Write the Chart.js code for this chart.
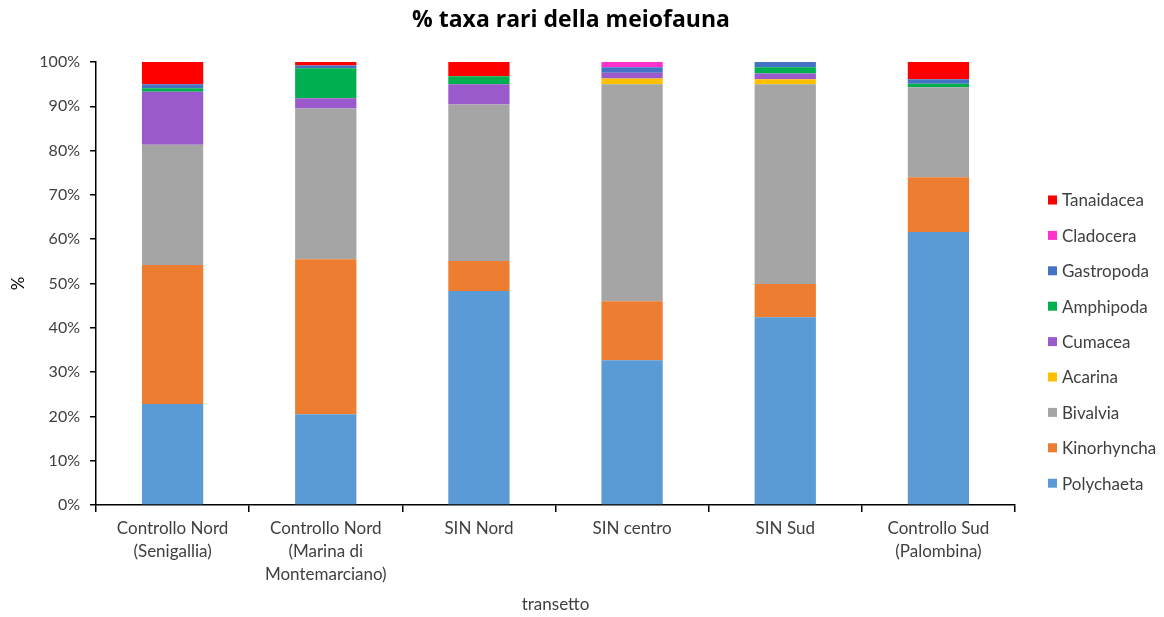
<!DOCTYPE html>
<html>
<head>
<meta charset="utf-8">
<script src="https://cdn.jsdelivr.net/npm/chart.js@4"></script>
<style>
  html, body { margin: 0; padding: 0; background: #fff; }
  #wrap { width: 1164px; height: 617px; }
</style>
</head>
<body>
<div id="wrap"><canvas id="chart" width="1164" height="617"></canvas></div>
<script>
const transetti = [
  ["Controllo Nord", "(Senigallia)"],
  ["Controllo Nord", "(Marina di", "Montemarciano)"],
  "SIN Nord",
  "SIN centro",
  "SIN Sud",
  ["Controllo Sud", "(Palombina)"],
];

const polychaeta = [22.8, 20.5, 48.3, 32.7, 42.4, 61.6];
const kinorhyncha = [31.4, 35.0, 6.8, 13.3, 7.5, 12.4];
const bivalvia = [27.1, 34.0, 35.3, 49.0, 45.1, 20.3];
const acarina = [0, 0, 0, 1.3, 1.1, 0];
const cumacea = [12.0, 2.3, 4.6, 1.3, 1.3, 0];
const amphipoda = [0.75, 6.8, 1.8, 0, 1.4, 0.8];
const gastropoda = [0.95, 0.6, 0, 1.2, 1.2, 1.0];
const cladocera = [0, 0, 0, 1.2, 0, 0];
const tanaidacea = [5.0, 0.8, 3.2, 0, 0, 3.9];

const yTicks = [0, 10, 20, 30, 40, 50, 60, 70, 80, 90, 100];

const font = "Lato, 'Liberation Sans', sans-serif";
const textColor = "#404040";

const series = [
  { label: "Polychaeta", data: polychaeta, color: "#5B9BD5" },
  { label: "Kinorhyncha", data: kinorhyncha, color: "#ED7D31" },
  { label: "Bivalvia", data: bivalvia, color: "#A5A5A5" },
  { label: "Acarina", data: acarina, color: "#FFC000" },
  { label: "Cumacea", data: cumacea, color: "#9B5ACB" },
  { label: "Amphipoda", data: amphipoda, color: "#00B050" },
  { label: "Gastropoda", data: gastropoda, color: "#4472C4" },
  { label: "Cladocera", data: cladocera, color: "#FF33CC" },
  { label: "Tanaidacea", data: tanaidacea, color: "#FF0000" },
];

// title + legend drawn by hand so they sit where Excel put them
const extras = {
  id: "extras",
  afterDraw(chart) {
    const ctx = chart.ctx;
    ctx.save();
    ctx.fillStyle = "#000";
    ctx.font = "bold 23px 'Open Sans', sans-serif";
    ctx.textAlign = "center";
    ctx.textBaseline = "middle";
    ctx.fillText("% taxa rari della meiofauna", 571, 20);

    ctx.textAlign = "left";
    ctx.font = "17px " + font;
    const items = chart.data.datasets.slice().reverse();
    items.forEach((ds, i) => {
      const y = 200 + i * 35.4;
      ctx.fillStyle = ds.backgroundColor;
      ctx.fillRect(1048, y - 4.5, 9, 9);
      ctx.fillStyle = textColor;
      ctx.fillText(ds.label, 1062, y + 1);
    });
    ctx.restore();
  },
};

new Chart(document.getElementById("chart"), {
  type: "bar",
  data: {
    labels: transetti,
    datasets: series.map((s) => ({
      label: s.label,
      data: s.data,
      backgroundColor: s.color,
      borderWidth: 0,
      categoryPercentage: 1,
      barPercentage: 0.4,
    })),
  },
  options: {
    responsive: false,
    animation: false,
    layout: { padding: { left: 8, right: 149, top: 62, bottom: 2 } },
    plugins: {
      legend: { display: false },
      tooltip: { enabled: false },
      title: { display: false },
    },
    scales: {
      x: {
        stacked: true,
        grid: { display: true, drawOnChartArea: false, offset: true, color: "#000", tickLength: 7, lineWidth: 1.5 },
        border: { color: "#000", width: 1.5 },
        ticks: { color: textColor, font: { family: font, size: 17, lineHeight: 1.35 }, maxRotation: 0, autoSkip: false, padding: 5 },
        title: { display: true, text: "transetto", color: textColor, font: { family: font, size: 17 }, padding: { top: 0, bottom: 0 } },
        afterFit(scale) { scale.height = 110; },
      },
      y: {
        stacked: true,
        min: 0,
        max: 100,
        afterBuildTicks(scale) { scale.ticks = yTicks.map((v) => ({ value: v })); },
        grid: { display: true, drawOnChartArea: false, color: "#000", tickLength: 6, lineWidth: 1.5 },
        border: { color: "#000", width: 1.5 },
        ticks: { color: textColor, font: { family: font, size: 16 }, padding: 10, callback: (v) => v + "%" },
        title: { display: true, text: "%", color: "#000", font: { family: font, size: 17 }, padding: 0 },
        afterFit(scale) { scale.width = 88; },
      },
    },
  },
  plugins: [extras],
});
</script>
</body>
</html>
